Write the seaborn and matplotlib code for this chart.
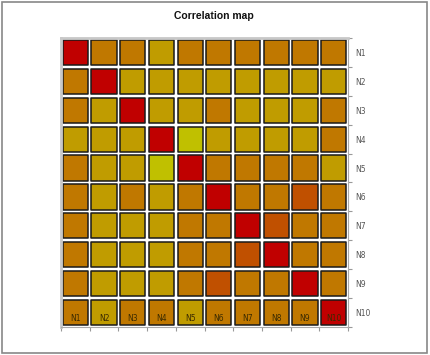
import pandas as pd
import matplotlib.pyplot as plt
import seaborn as sns
from matplotlib.patches import Rectangle

# variables and their (binned) correlation levels
names = ['N1', 'N2', 'N3', 'N4', 'N5', 'N6', 'N7', 'N8', 'N9', 'N10']
corr = [
    [1.0, 0.6, 0.6, 0.4, 0.6, 0.6, 0.6, 0.6, 0.6, 0.6],
    [0.6, 1.0, 0.4, 0.4, 0.4, 0.4, 0.4, 0.4, 0.4, 0.4],
    [0.6, 0.4, 1.0, 0.4, 0.4, 0.6, 0.4, 0.4, 0.4, 0.6],
    [0.4, 0.4, 0.4, 1.0, 0.2, 0.4, 0.4, 0.4, 0.4, 0.6],
    [0.6, 0.4, 0.4, 0.2, 1.0, 0.6, 0.6, 0.6, 0.6, 0.4],
    [0.6, 0.4, 0.6, 0.4, 0.6, 1.0, 0.6, 0.6, 0.8, 0.6],
    [0.6, 0.4, 0.4, 0.4, 0.6, 0.6, 1.0, 0.8, 0.6, 0.6],
    [0.6, 0.4, 0.4, 0.4, 0.6, 0.6, 0.8, 1.0, 0.6, 0.6],
    [0.6, 0.4, 0.4, 0.4, 0.6, 0.8, 0.6, 0.6, 1.0, 0.6],
    [0.6, 0.4, 0.6, 0.6, 0.4, 0.6, 0.6, 0.6, 0.6, 1.0],
]
level_colors = {1.0: '#c00000', 0.8: '#c05000', 0.6: '#c07800',
                0.4: '#c09c00', 0.2: '#c0c000'}

# long form table
rows = []
for i, rn in enumerate(names):
    for j, cn in enumerate(names):
        rows.append({'x': j + 1, 'y': i + 1, 'row': rn, 'col': cn, 'r': corr[i][j]})
df = pd.DataFrame(rows)

sns.set_style('white')
fig = plt.figure(figsize=(4.3, 3.55), dpi=100)
ax = fig.add_axes([0.1419, 0.0789, 0.8093 - 0.1419, 0.893 - 0.0789])

sns.scatterplot(data=df, x='x', y='y', hue='r', palette=level_colors,
                marker='s', s=330, edgecolor='#1a1a1a', linewidth=1.1,
                legend=False, ax=ax)

ax.set_xlim(0.5, 10.5)
ax.set_ylim(10.5, 0.5)
ax.set_xlabel('')
ax.set_ylabel('')

# ticks at cell borders, labels at centres
ax.set_xticks([k + 0.5 for k in range(11)])
ax.set_xticklabels([])
ax.yaxis.tick_right()
ax.set_yticks([k + 0.5 for k in range(11)])
ax.set_yticklabels([])
ax.set_yticks(range(1, 11), minor=True)
ax.set_yticklabels(names, minor=True, fontsize=5.5, color='#555555')
ax.tick_params(axis='y', which='minor', length=0, pad=5)
ax.tick_params(axis='both', which='major', length=3, color='#999999', width=0.8,
               bottom=True, right=True, left=False, top=False, direction='out')

for side in ['left', 'top']:
    ax.spines[side].set_color('#c8c8c8')
    ax.spines[side].set_linewidth(2)
for side in ['right', 'bottom']:
    ax.spines[side].set_color('#aaaaaa')
    ax.spines[side].set_linewidth(0.8)

# column names inside the bottom row
for j, cn in enumerate(names):
    ax.text(j + 1, len(names) + 0.2, cn, ha='center', va='center',
            fontsize=5.5, color='#3a2a00')

fig.text(0.497, 0.955, 'Correlation map', ha='center', va='center',
         fontsize=7.5, fontweight='bold', color='#111111',
         family=['Liberation Sans', 'DejaVu Sans'])

# chart border
fig.patches.append(Rectangle((0.005, 0.006), 0.988, 0.988, transform=fig.transFigure,
                             fill=False, edgecolor='#888888', linewidth=1.2))

fig.savefig('out.png', dpi=100)
